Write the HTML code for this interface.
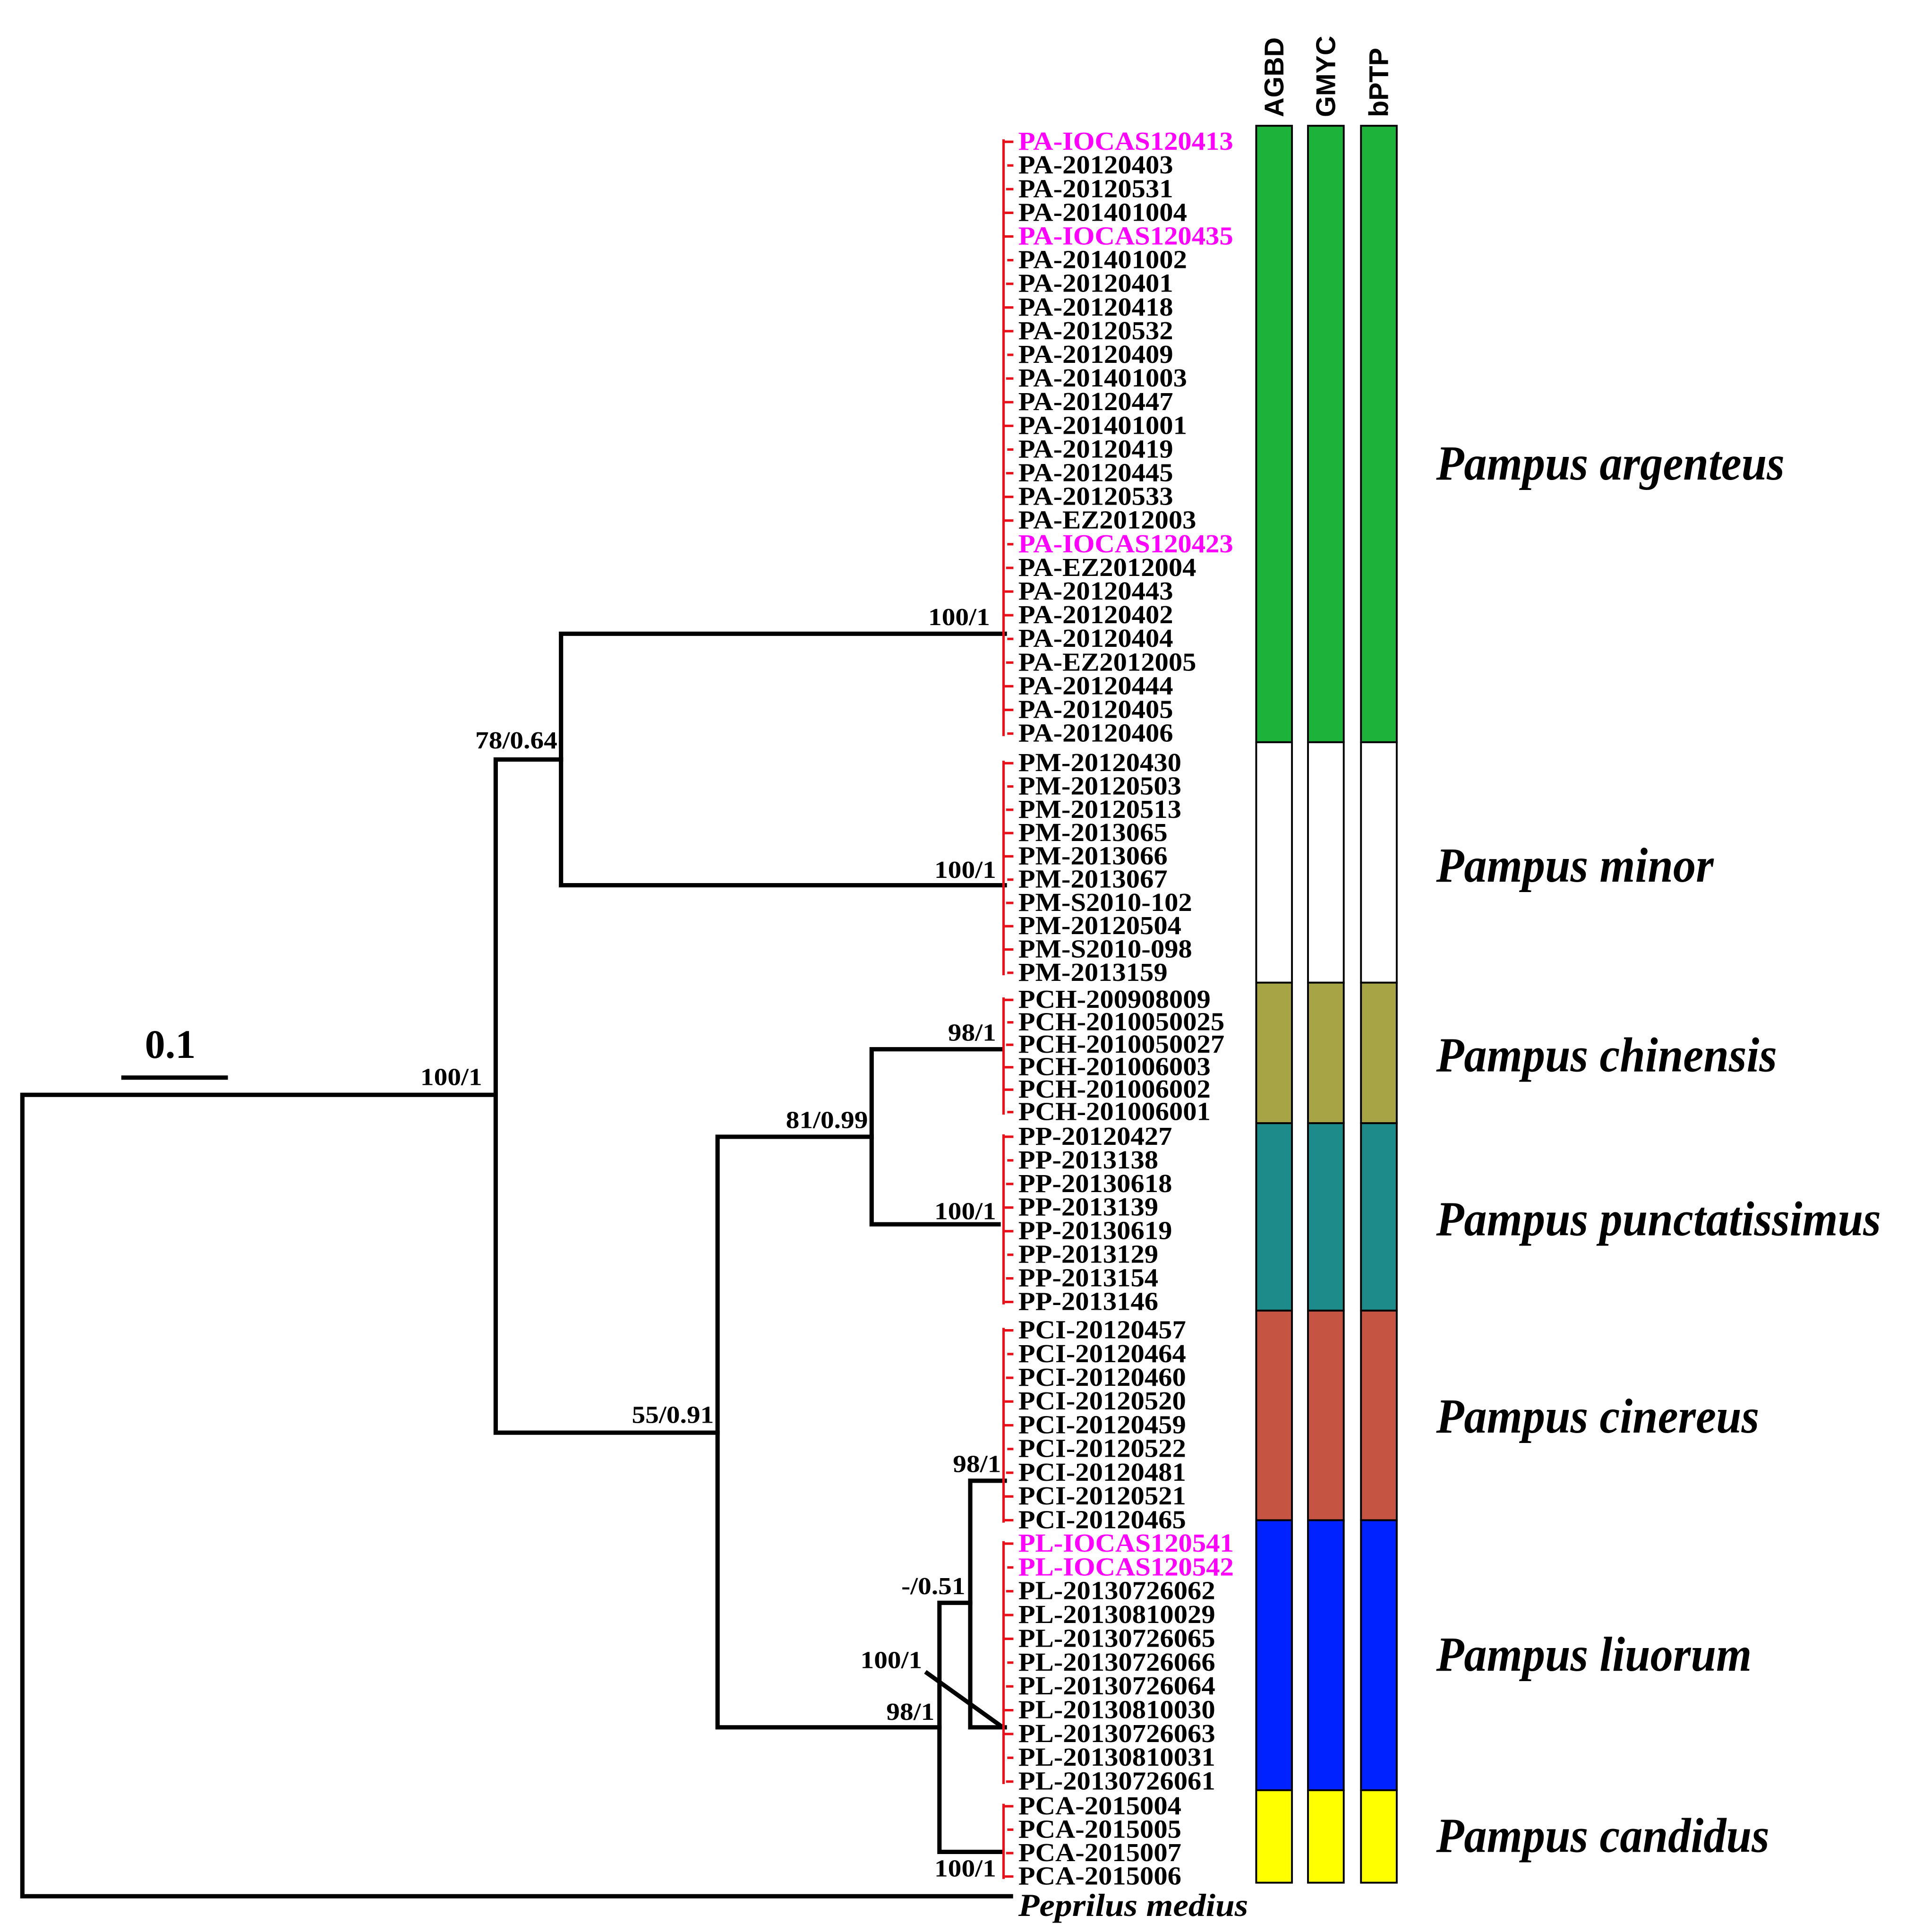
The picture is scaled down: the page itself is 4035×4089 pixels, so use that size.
<!DOCTYPE html>
<html><head><meta charset="utf-8"><style>html,body{margin:0;padding:0;background:#fff}svg{display:block}</style></head><body>
<svg width="4035" height="4089" viewBox="0 0 1546 1567" xmlns="http://www.w3.org/2000/svg">
<rect width="1546" height="1567" fill="#fff"/>
<g stroke="#000" stroke-width="3.5" fill="none" stroke-linecap="square">
<path d="M18 888V1538H820M18 888H402"/>
<path d="M402 616V1162M402 616H455M402 1162H582"/>
<path d="M455 514V718M455 514H815M455 718H815"/>
<path d="M582 922V1401M582 922H707M582 1401H762"/>
<path d="M707 851V993M707 851H812M707 993H810"/>
<path d="M762 1300V1502M762 1300H787M762 1502H812"/>
<path d="M787 1201V1401M787 1201H815M787 1401H815"/>
<path d="M752 1357L812 1400"/>
<path d="M100 874H183"/>
</g>
<text x="138" y="858" font-family="Liberation Serif,serif" font-weight="bold" font-size="33" text-anchor="middle">0.1</text>
<g id="red" stroke="#e8111a" stroke-width="2" fill="none"></g>
<g id="labels" font-family="Liberation Serif,serif" font-weight="bold" font-size="21"></g>
<g font-family="Liberation Serif,serif" font-weight="bold" font-size="20" text-anchor="end">
<text transform="translate(803,507) scale(1.1,1)">100/1</text>
<text transform="translate(452,607) scale(1.1,1)">78/0.64</text>
<text transform="translate(391,880) scale(1.1,1)">100/1</text>
<text transform="translate(808,712) scale(1.1,1)">100/1</text>
<text transform="translate(808,844) scale(1.1,1)">98/1</text>
<text transform="translate(704,915) scale(1.1,1)">81/0.99</text>
<text transform="translate(808,989) scale(1.1,1)">100/1</text>
<text transform="translate(579,1154) scale(1.1,1)">55/0.91</text>
<text transform="translate(812,1194) scale(1.1,1)">98/1</text>
<text transform="translate(783,1293) scale(1.1,1)">-/0.51</text>
<text transform="translate(748,1353) scale(1.1,1)">100/1</text>
<text transform="translate(758,1395) scale(1.1,1)">98/1</text>
<text transform="translate(808,1522) scale(1.1,1)">100/1</text>
</g>
<g stroke="#000" stroke-width="1.5">
<rect x="1019" y="102" width="29" height="500" fill="#1db33a"/><rect x="1061" y="102" width="29" height="500" fill="#1db33a"/><rect x="1104" y="102" width="29" height="500" fill="#1db33a"/>
<rect x="1019" y="602" width="29" height="195" fill="#fff"/><rect x="1061" y="602" width="29" height="195" fill="#fff"/><rect x="1104" y="602" width="29" height="195" fill="#fff"/>
<rect x="1019" y="797" width="29" height="114" fill="#a6a444"/><rect x="1061" y="797" width="29" height="114" fill="#a6a444"/><rect x="1104" y="797" width="29" height="114" fill="#a6a444"/>
<rect x="1019" y="911" width="29" height="152" fill="#1e8b8b"/><rect x="1061" y="911" width="29" height="152" fill="#1e8b8b"/><rect x="1104" y="911" width="29" height="152" fill="#1e8b8b"/>
<rect x="1019" y="1063" width="29" height="170" fill="#c55443"/><rect x="1061" y="1063" width="29" height="170" fill="#c55443"/><rect x="1104" y="1063" width="29" height="170" fill="#c55443"/>
<rect x="1019" y="1233" width="29" height="219" fill="#0022ff"/><rect x="1061" y="1233" width="29" height="219" fill="#0022ff"/><rect x="1104" y="1233" width="29" height="219" fill="#0022ff"/>
<rect x="1019" y="1452" width="29" height="75" fill="#ffff00"/><rect x="1061" y="1452" width="29" height="75" fill="#ffff00"/><rect x="1104" y="1452" width="29" height="75" fill="#ffff00"/>
</g>
<g font-family="Liberation Sans,sans-serif" font-weight="bold" font-size="22">
<text transform="translate(1041,95) rotate(-90)">AGBD</text>
<text transform="translate(1083,95) rotate(-90)">GMYC</text>
<text transform="translate(1126,95) rotate(-90)">bPTP</text>
</g>
<g font-family="Liberation Serif,serif" font-weight="bold" font-style="italic" font-size="40">
<text transform="translate(1165,389) scale(0.925,1)">Pampus argenteus</text>
<text transform="translate(1165,715) scale(0.925,1)">Pampus minor</text>
<text transform="translate(1165,869) scale(0.925,1)">Pampus chinensis</text>
<text transform="translate(1165,1002) scale(0.925,1)">Pampus punctatissimus</text>
<text transform="translate(1165,1162) scale(0.925,1)">Pampus cinereus</text>
<text transform="translate(1165,1355) scale(0.925,1)">Pampus liuorum</text>
<text transform="translate(1165,1502) scale(0.925,1)">Pampus candidus</text>
</g>
<text transform="translate(826,1554) scale(1.08,1)" font-family="Liberation Serif,serif" font-weight="bold" font-style="italic" font-size="26">Peprilus medius</text>
<script>
var groups=[
[115,595,["PA-IOCAS120413","PA-20120403","PA-20120531","PA-201401004","PA-IOCAS120435","PA-201401002","PA-20120401","PA-20120418","PA-20120532","PA-20120409","PA-201401003","PA-20120447","PA-201401001","PA-20120419","PA-20120445","PA-20120533","PA-EZ2012003","PA-IOCAS120423","PA-EZ2012004","PA-20120443","PA-20120402","PA-20120404","PA-EZ2012005","PA-20120444","PA-20120405","PA-20120406"]],
[619,789,["PM-20120430","PM-20120503","PM-20120513","PM-2013065","PM-2013066","PM-2013067","PM-S2010-102","PM-20120504","PM-S2010-098","PM-2013159"]],
[811,902,["PCH-200908009","PCH-2010050025","PCH-2010050027","PCH-201006003","PCH-201006002","PCH-201006001"]],
[922,1056,["PP-20120427","PP-2013138","PP-20130618","PP-2013139","PP-20130619","PP-2013129","PP-2013154","PP-2013146"]],
[1079,1233,["PCI-20120457","PCI-20120464","PCI-20120460","PCI-20120520","PCI-20120459","PCI-20120522","PCI-20120481","PCI-20120521","PCI-20120465"]],
[1252,1445,["PL-IOCAS120541","PL-IOCAS120542","PL-20130726062","PL-20130810029","PL-20130726065","PL-20130726066","PL-20130726064","PL-20130810030","PL-20130726063","PL-20130810031","PL-20130726061"]],
[1465,1522,["PCA-2015004","PCA-2015005","PCA-2015007","PCA-2015006"]]];
var NS="http://www.w3.org/2000/svg",L=document.getElementById("labels"),R=document.getElementById("red");
groups.forEach(function(g){var n=g[2].length,st=(g[1]-g[0])/(n-1);
var v=document.createElementNS(NS,"path");v.setAttribute("d","M814 "+(g[0]-2)+"V"+(g[1]+2));R.appendChild(v);
g[2].forEach(function(s,i){var y=g[0]+i*st;var t=document.createElementNS(NS,"text");t.setAttribute("transform","translate(826,"+(y+6.5)+") scale(1.07,1)");t.textContent=s;if(s.indexOf("IOCAS")>=0)t.setAttribute("fill","#ff00ff");L.appendChild(t);
var h=document.createElementNS(NS,"path");var x0=814+((i*7)%4);h.setAttribute("d","M"+x0+" "+y+"H822");R.appendChild(h);});});
</script>
</svg>
</body></html>
